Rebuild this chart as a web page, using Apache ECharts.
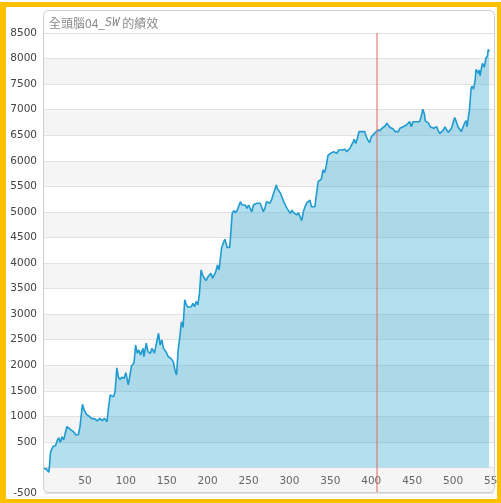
<!DOCTYPE html>
<html>
<head>
<meta charset="utf-8">
<script src="https://cdn.jsdelivr.net/npm/echarts@6/dist/echarts.min.js"></script>
<style>
  html, body { margin: 0; padding: 0; background: #fff; }
  #main { position: absolute; left: 0; top: 0; width: 501px; height: 503px; }
  #frame {
    position: absolute; left: 0; top: 2px; width: 501px; height: 501px;
    box-sizing: border-box; border: solid #ffc000; border-width: 5px 4px 4px 6px;
    pointer-events: none;
  }
</style>
</head>
<body>
<div id="main"></div>
<div id="frame"></div>
<script>
// 交易序號（x）
const xs = [0, 3, 6, 8, 11, 14, 16, 18, 20, 22, 24, 28, 30, 33, 36, 39, 42, 44, 47, 49,
  52, 55, 58, 62, 65, 68, 71, 74, 77, 79, 81, 83, 85, 87, 89, 91, 93, 95, 98, 100,
  103, 105, 107, 110, 112, 114, 116, 118, 121, 122, 125, 127, 130, 132, 135, 137, 140, 142, 144, 146,
  149, 152, 155, 158, 160, 162, 164, 166, 168, 170, 172, 174, 176, 178, 180, 182, 184, 186, 188, 190,
  192, 194, 196, 198, 200, 202, 204, 206, 208, 210, 212, 214, 215, 217, 219, 221, 222, 224, 227, 229,
  230, 232, 234, 236, 238, 240, 242, 244, 246, 248, 250, 252, 254, 256, 258, 260, 262, 264, 266, 268,
  270, 272, 274, 276, 278, 280, 282, 284, 285, 287, 289, 291, 293, 295, 297, 299, 301, 303, 305, 307,
  309, 311, 313, 315, 317, 319, 321, 323, 325, 327, 329, 331, 333, 335, 337, 339, 341, 343, 345, 347,
  350, 352, 354, 356, 358, 360, 362, 364, 366, 368, 370, 372, 374, 376, 378, 379, 381, 383, 385, 386,
  388, 390, 392, 394, 396, 398, 400, 402, 404, 406, 408, 411, 413, 415, 417, 419, 421, 423, 425, 427,
  429, 431, 433, 435, 437, 439, 441, 443, 445, 447, 449, 451, 453, 455, 457, 459, 461, 463, 465, 466,
  468, 470, 472, 474, 476, 478, 480, 482, 484, 486, 488, 490, 492, 494, 496, 498, 500, 502, 504, 506,
  508, 510, 512, 514, 516, 517, 519, 520, 522, 523, 525, 527, 528, 530, 531, 532, 533, 535, 536, 538,
  539, 540, 542, 543, 544];

// 累計績效（y）
const ys = [-15, -40, -95, 300, 410, 425, 520, 580, 490, 600, 540, 800, 780, 735, 700, 635, 640, 800, 1235, 1125,
  1040, 1005, 960, 950, 910, 960, 915, 960, 895, 1190, 1420, 1440, 1380, 1500, 1950, 1760, 1720, 1765, 1745, 1855,
  1615, 1645, 1985, 2050, 2395, 2235, 2300, 2200, 2330, 2165, 2430, 2265, 2235, 2330, 2235, 2395, 2625, 2395, 2495, 2330,
  2265, 2165, 2135, 2070, 1905, 1810, 2300, 2560, 2850, 2740, 3280, 3180, 3135, 3170, 3145, 3210, 3145, 3245, 3180, 3405,
  3865, 3765, 3700, 3655, 3720, 3720, 3800, 3700, 3680, 3830, 3960, 3865, 4005, 4290, 4385, 4465, 4450, 4305, 4305, 4305,
  4970, 5025, 4985, 5025, 5035, 5200, 5135, 5100, 5135, 5070, 5135, 5115, 5000, 5135, 5150, 5170, 5135, 5170, 5100, 5005,
  5070, 5200, 5230, 5170, 5230, 5330, 5430, 5525, 5460, 5440, 5365, 5330, 5200, 5135, 5070, 5035, 4970, 5035, 4985, 5005,
  4940, 4985, 4905, 4830, 5005, 5100, 5170, 5170, 5230, 5100, 5070, 5100, 5070, 5590, 5600, 5640, 5820, 5770, 5900, 6100,
  6145, 6130, 6175, 6210, 6145, 6210, 6175, 6210, 6175, 6225, 6175, 6160, 6245, 6310, 6375, 6420, 6340, 6440, 6570, 6535,
  6570, 6535, 6570, 6470, 6405, 6355, 6470, 6505, 6535, 6570, 6600, 6590, 6635, 6615, 6680, 6735, 6765, 6650, 6615, 6620,
  6570, 6580, 6570, 6635, 6600, 6665, 6635, 6700, 6665, 6765, 6665, 6765, 6735, 6765, 6800, 6765, 6860, 7010, 6910, 6780,
  6750, 6735, 6665, 6665, 6635, 6620, 6665, 6580, 6535, 6505, 6600, 6665, 6635, 6555, 6560, 6635, 6600, 6845, 6765, 6665,
  6635, 6570, 6535, 6735, 6785, 6665, 6655, 6995, 7415, 7460, 7400, 7580, 7790, 7760, 7710, 7775, 7660, 7840, 7905, 7830,
  7905, 8005, 8050, 8180, 8135];

// 紅色分隔線位置（x 值）與上下端（y 軸範圍）
const markX = 407;
const markYRange = [-500, 8500];

const points = xs.map((x, i) => [x, ys[i]]);
const markPoints = markYRange.map(y => [markX, y]);

var myChart = echarts.init(document.getElementById('main'));

myChart.setOption({
  animation: false,
  backgroundColor: '#fff',
  grid: { left: 44, right: 7, top: 33, bottom: 10, outerBoundsMode: 'none', containLabel: false },
  graphic: [
    {
      type: 'rect',
      z: 100,
      shape: { x: 43.5, y: 10.5, width: 451, height: 482, r: 5 },
      style: { fill: 'none', stroke: '#cfcfcf', lineWidth: 1 }
    },
    {
      type: 'text',
      z: 100,
      left: 49,
      top: 17,
      style: {
        text: '{a|全頭腦04_}{b|SW}{a| 的績效}',
        rich: {
          a: { fontSize: 12, fontFamily: '"Noto Sans CJK TC", sans-serif', fill: '#8a8a8a' },
          b: { fontSize: 12, fontFamily: '"DejaVu Sans Mono", monospace', fontStyle: 'italic', fill: '#8a8a8a' }
        }
      }
    }
  ],
  xAxis: {
    type: 'value',
    min: 0,
    max: 550,
    interval: 50,
    axisLine: { show: false, onZero: false },
    axisTick: { show: false },
    splitLine: { show: false },
    axisLabel: {
      inside: true,
      color: '#666',
      fontSize: 10.5,
      fontFamily: 'DejaVu Sans',
      margin: 6,
      showMaxLabel: true,
      formatter: v => (v === 0 ? '' : v)
    }
  },
  yAxis: {
    type: 'value',
    min: -500,
    max: 8500,
    interval: 500,
    axisLine: { show: false },
    axisTick: { show: false },
    splitLine: { lineStyle: { color: '#e2e2e2' } },
    splitArea: { show: true, areaStyle: { color: ['#f5f5f5', '#ffffff'] } },
    axisLabel: {
      color: '#444',
      fontSize: 10.5,
      fontFamily: 'DejaVu Sans',
      margin: 7,
      formatter: v => (v === 0 ? '' : v)
    }
  },
  series: [
    {
      type: 'line',
      data: points,
      showSymbol: false,
      lineStyle: { color: '#1f9bd1', width: 1.6 },
      areaStyle: { color: 'rgba(48,166,212,0.52)' }
    },
    {
      type: 'line',
      data: markPoints,
      z: 5,
      silent: true,
      showSymbol: false,
      lineStyle: { color: '#e06666', width: 1 }
    }
  ]
});
</script>
</body>
</html>
